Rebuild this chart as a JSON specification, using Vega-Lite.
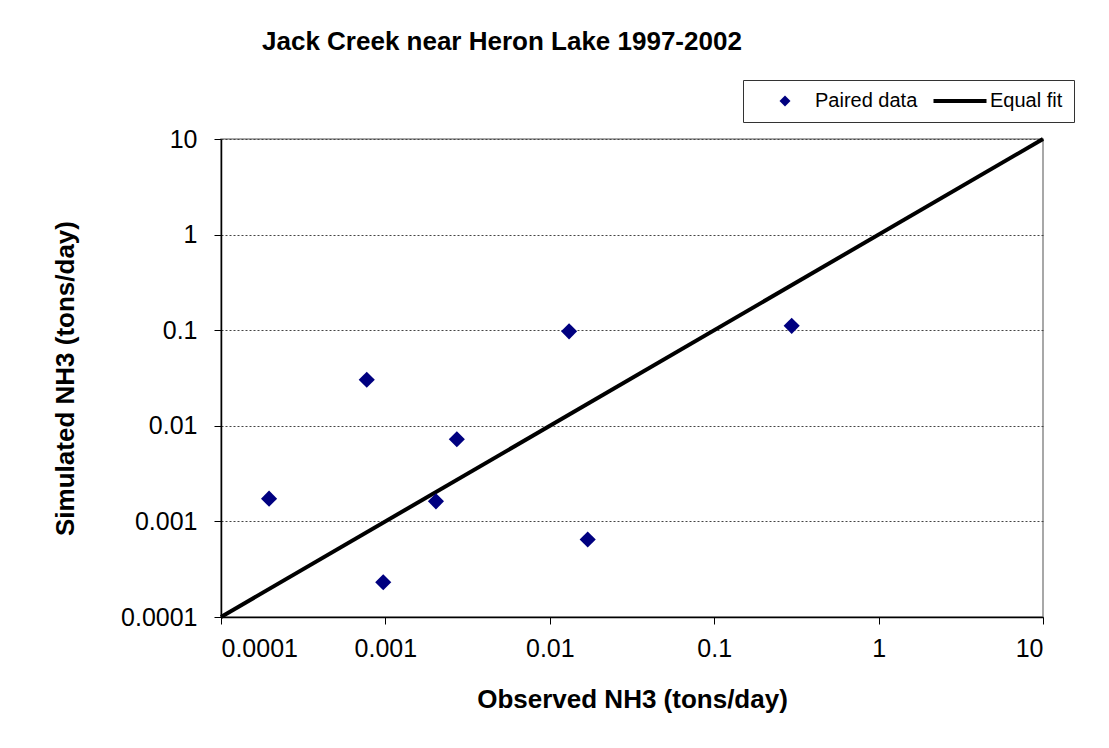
{
  "$schema": "https://vega.github.io/schema/vega-lite/v6.json",
  "width": 822,
  "height": 478,
  "autosize": {"type": "none"},
  "padding": {"left": 221, "top": 139, "right": 66, "bottom": 131},
  "background": "white",
  "title": {
    "text": "Jack Creek near Heron Lake 1997-2002",
    "anchor": "start",
    "frame": "group",
    "dx": 41,
    "offset": 4,
    "baseline": "alphabetic",
    "font": "Liberation Sans",
    "fontSize": 26,
    "fontWeight": "bold",
    "color": "black"
  },
  "datasets": {
    "paired": [
      {"obs": 0.000196, "sim": 0.00173, "series": "Paired data"},
      {"obs": 0.00077, "sim": 0.0303, "series": "Paired data"},
      {"obs": 0.00097, "sim": 0.000231, "series": "Paired data"},
      {"obs": 0.00203, "sim": 0.00162, "series": "Paired data"},
      {"obs": 0.00272, "sim": 0.00724, "series": "Paired data"},
      {"obs": 0.0131, "sim": 0.0973, "series": "Paired data"},
      {"obs": 0.017, "sim": 0.000647, "series": "Paired data"},
      {"obs": 0.296, "sim": 0.111, "series": "Paired data"}
    ],
    "equal": [
      {"obs": 0.0001, "sim": 0.0001},
      {"obs": 10, "sim": 10}
    ]
  },
  "layer": [
    {
      "data": {"name": "equal"},
      "mark": {"type": "line", "color": "black", "strokeWidth": 4, "strokeCap": "butt"},
      "encoding": {
        "x": {
          "field": "obs", "type": "quantitative",
          "scale": {"type": "log", "domain": [0.0001, 10]},
          "axis": {
            "title": "Observed NH3 (tons/day)",
            "values": [0.0001, 0.001, 0.01, 0.1, 1, 10],
            "format": "~g",
            "grid": false,
            "tickSize": 7,
            "labelPadding": 12,
            "titlePadding": 25
          }
        },
        "y": {
          "field": "sim", "type": "quantitative",
          "scale": {"type": "log", "domain": [0.0001, 10]},
          "axis": {
            "title": "Simulated NH3 (tons/day)",
            "values": [0.0001, 0.001, 0.01, 0.1, 1, 10],
            "format": "~g",
            "grid": true,
            "gridDash": [2, 2],
            "gridColor": "#444444",
            "gridWidth": 1,
            "tickSize": 7,
            "labelPadding": 17,
            "titlePadding": 42
          }
        }
      }
    },
    {
      "data": {"name": "paired"},
      "mark": {"type": "point", "filled": true, "opacity": 1, "size": 260, "strokeWidth": 0},
      "encoding": {
        "x": {"field": "obs", "type": "quantitative"},
        "y": {"field": "sim", "type": "quantitative"},
        "color": {
          "field": "series", "type": "nominal",
          "scale": {"domain": ["Paired data", "Equal fit"], "range": ["#000080", "#000000"]},
          "legend": {
            "title": null,
            "orient": "none",
            "legendX": 522,
            "legendY": -59,
            "direction": "horizontal",
            "padding": 11,
            "symbolSize": 121,
            "symbolStrokeWidth": 0,
            "symbolOffset": 21,
            "labelOffset": 20,
            "labelFontSize": 20,
            "labelFont": "Liberation Sans",
            "labelColor": "black",
            "columnPadding": 11,
            "strokeColor": "#333333",
            "fillColor": "white",
            "symbolOpacity": 1
          }
        },
        "shape": {
          "field": "series", "type": "nominal",
          "scale": {"domain": ["Paired data", "Equal fit"], "range": ["diamond", "M-4.82,-0.36H4.82V0.36H-4.82Z"]},
          "legend": {
            "title": null,
            "orient": "none",
            "legendX": 522,
            "legendY": -59,
            "direction": "horizontal",
            "padding": 11,
            "symbolSize": 121,
            "symbolStrokeWidth": 0,
            "symbolOffset": 21,
            "labelOffset": 20,
            "labelFontSize": 20,
            "labelFont": "Liberation Sans",
            "labelColor": "black",
            "columnPadding": 11,
            "strokeColor": "#333333",
            "fillColor": "white",
            "symbolOpacity": 1
          }
        }
      }
    }
  ],
  "config": {
    "font": "Liberation Sans",
    "view": {"stroke": "#8c8c8c", "strokeWidth": 1.5},
    "axis": {
      "domainColor": "black",
      "domainWidth": 1.5,
      "tickColor": "black",
      "tickWidth": 1,
      "labelFont": "Liberation Sans",
      "labelFontSize": 25,
      "labelColor": "black",
      "titleFont": "Liberation Sans",
      "titleFontSize": 26,
      "titleFontWeight": "bold",
      "titleColor": "black"
    }
  }
}
